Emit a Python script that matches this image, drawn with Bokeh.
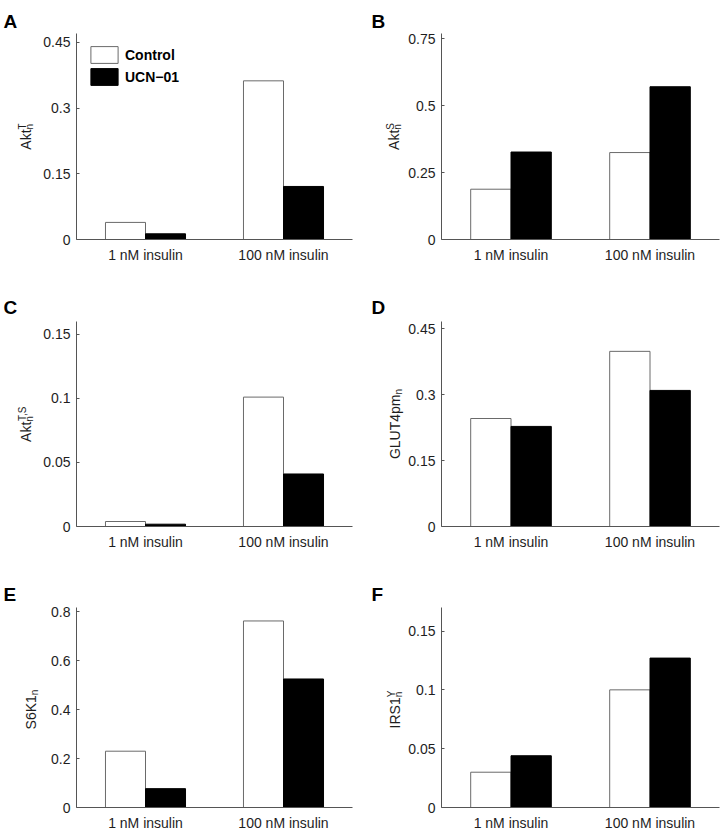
import numpy as np
from bokeh.plotting import figure
from bokeh.models import (ColumnDataSource, FactorRange, Range1d, FixedTicker,
                          CustomJSTickFormatter, Label, Legend, LegendItem)
from bokeh.transform import dodge
from bokeh.layouts import column, row
from bokeh.embed import file_html
from bokeh.resources import INLINE

# ---------------- data ----------------
categories = ["1 nM insulin", "100 nM insulin"]
series_names = ["Control", "UCN\u221201"]

akt_t_control = [0.039, 0.362]
akt_t_ucn = [0.013, 0.121]
akt_s_control = [0.188, 0.325]
akt_s_ucn = [0.327, 0.571]
akt_ts_control = [0.0039, 0.101]
akt_ts_ucn = [0.0018, 0.041]
glut4_control = [0.246, 0.399]
glut4_ucn = [0.228, 0.310]
s6k1_control = [0.230, 0.762]
s6k1_ucn = [0.077, 0.525]
irs1_control = [0.030, 0.100]
irs1_ucn = [0.044, 0.127]

ticks_a = [0, 0.15, 0.3, 0.45]
ticks_b = [0, 0.25, 0.5, 0.75]
ticks_c = [0, 0.05, 0.1, 0.15]
ticks_d = [0, 0.15, 0.3, 0.45]
ticks_e = [0, 0.2, 0.4, 0.6, 0.8]
ticks_f = [0, 0.05, 0.1, 0.15]

ymax_a, ymax_b, ymax_c, ymax_d, ymax_e, ymax_f = 0.47, 0.77, 0.16, 0.467, 0.817, 0.17

panels = [
    ("A", "Akt", "T", "n", akt_t_control, akt_t_ucn, ticks_a, ymax_a),
    ("B", "Akt", "S", "n", akt_s_control, akt_s_ucn, ticks_b, ymax_b),
    ("C", "Akt", "T,S", "n", akt_ts_control, akt_ts_ucn, ticks_c, ymax_c),
    ("D", "GLUT4pm", "", "n", glut4_control, glut4_ucn, ticks_d, ymax_d),
    ("E", "S6K1", "", "n", s6k1_control, s6k1_ucn, ticks_e, ymax_e),
    ("F", "IRS1", "Y", "n", irs1_control, irs1_ucn, ticks_f, ymax_f),
]

# ---------------- style ----------------
FONT = "Liberation Sans"
TXT = "#1e1e1e"
AX = "#555555"
BAR_W = 0.29
FRAME_W = 278
TOTAL_H = 833
COL_START = [0, 361]
COL_END = [361, 722]
FRAME_LEFT = [74, 441]                      # page x of each column's frame
STRIP_W = [40, 44]                          # width of label strip per column
ROW_SPEC = [(287, 33, 48), (287, 34, 48), (259, 33, 22)]  # height, top, bottom
LETTER_BASE = [21, 20, 20]                 # letter baseline below row top
YLABEL_BASE = {"A": 25, "B": 32, "C": 25, "D": 33, "E": 30, "F": 33}
LETTER_X = [3, 10]

ARIAL = {"A": .667, "k": .5, "t": .278, "G": .778, "L": .556, "U": .722,
         "T": .611, "4": .556, "p": .556, "m": .833, "S": .667, "6": .556,
         "K": .667, "1": .556, "I": .278, "R": .722, "Y": .667, "n": .556,
         ",": .278}


def tw(s, size):
    return sum(ARIAL.get(c, .556) for c in s) * size


def make_strip(col):
    sw = STRIP_W[col]
    f = figure(width=sw, height=TOTAL_H, x_range=Range1d(0, sw),
               y_range=Range1d(0, TOTAL_H), output_backend="svg",
               toolbar_location=None, tools="",
               x_axis_location=None, y_axis_location=None)
    f.min_border_left = f.min_border_right = 0
    f.min_border_top = f.min_border_bottom = 0
    f.outline_line_color = None
    f.xgrid.visible = False
    f.ygrid.visible = False
    f.background_fill_color = "white"
    f.border_fill_color = "white"

    row_top = 0
    for rr in range(3):
        letter, main, sup, sub = panels[2 * rr + col][:4]
        h, bt, bb = ROW_SPEC[rr]
        fh = h - bt - bb
        f.add_layout(Label(x=LETTER_X[col], y=TOTAL_H - (row_top + LETTER_BASE[rr]),
                           x_units="screen", y_units="screen",
                           text=letter, text_font=FONT, text_font_style="bold",
                           text_font_size="19px", text_color="black",
                           text_align="left", text_baseline="alphabetic"))
        w_main = tw(main, 14)
        w_sup = tw(sup, 10)
        w_sub = tw(sub, 10)
        total = w_main + max(w_sup, w_sub)
        center = TOTAL_H - (row_top + bt + fh / 2)
        y0 = center - total / 2
        base = YLABEL_BASE[letter]
        common = dict(x_units="screen", y_units="screen",
                      angle=np.pi / 2, text_font=FONT, text_color=TXT,
                      text_align="center", text_baseline="alphabetic")
        f.add_layout(Label(text=main, x=base, y=y0 + w_main / 2,
                           text_font_size="14px", **common))
        if sup:
            f.add_layout(Label(text=sup, x=base - 3, y=y0 + w_main + w_sup / 2,
                               text_font_size="10px", **common))
        if sub:
            f.add_layout(Label(text=sub, x=base + 4, y=y0 + w_main + w_sub / 2,
                               text_font_size="10px", **common))
        row_top += h
    return f


def make_panel(idx, spec):
    letter, main, sup, sub, ctrl, ucn, ticks, ymax = spec
    col = idx % 2
    rr = idx // 2
    h, bt, bb = ROW_SPEC[rr]
    start = COL_START[col] + STRIP_W[col]
    width = COL_END[col] - start
    bl = FRAME_LEFT[col] - start
    br = width - bl - FRAME_W

    p = figure(width=width, height=h,
               x_range=FactorRange(*categories),
               y_range=Range1d(0, ymax), output_backend="svg",
               toolbar_location=None, tools="")
    p.min_border_left = bl
    p.min_border_right = br
    p.min_border_top = bt
    p.min_border_bottom = bb
    p.outline_line_color = None
    p.xgrid.grid_line_color = None
    p.ygrid.grid_line_color = None
    p.background_fill_color = "white"
    p.border_fill_color = "white"
    p.x_range.range_padding = 0

    src = ColumnDataSource(dict(cat=categories, control=ctrl, ucn=ucn))
    r1 = p.vbar(x=dodge("cat", -BAR_W / 2, range=p.x_range), top="control",
                width=BAR_W, source=src, fill_color="white",
                line_color="#6a6a6a", line_width=1)
    r2 = p.vbar(x=dodge("cat", BAR_W / 2, range=p.x_range), top="ucn",
                width=BAR_W, source=src, fill_color="black",
                line_color="black", line_width=1)

    ya = p.yaxis[0]
    ya.ticker = FixedTicker(ticks=ticks)
    ya.formatter = CustomJSTickFormatter(code="return tick.toString()")
    ya.axis_line_color = AX
    ya.major_tick_line_color = AX
    ya.major_tick_in = 3
    ya.major_tick_out = 0
    ya.minor_tick_line_color = None
    ya.major_label_standoff = 6
    ya.major_label_text_font = FONT
    ya.major_label_text_font_size = "14px"
    ya.major_label_text_color = TXT

    xa = p.xaxis[0]
    xa.axis_line_color = AX
    xa.major_tick_line_color = None
    xa.minor_tick_line_color = None
    xa.major_label_standoff = 1
    xa.major_label_text_font = FONT
    xa.major_label_text_font_size = "14px"
    xa.major_label_text_color = TXT

    if idx == 0:
        leg = Legend(items=[LegendItem(label=series_names[0], renderers=[r1]),
                            LegendItem(label=series_names[1], renderers=[r2])],
                     location="top_left")
        leg.glyph_width = 34
        leg.glyph_height = 21
        leg.label_height = 21
        leg.spacing = 1
        leg.padding = 0
        leg.margin = 11
        leg.label_standoff = 4
        leg.border_line_color = None
        leg.background_fill_alpha = 0
        leg.label_text_font = FONT
        leg.label_text_font_style = "bold"
        leg.label_text_font_size = "14px"
        leg.label_text_color = "black"
        p.add_layout(leg)
    return p


figs = [make_panel(i, s) for i, s in enumerate(panels)]
layout = row(make_strip(0), column(figs[0], figs[2], figs[4]),
             make_strip(1), column(figs[1], figs[3], figs[5]))

open("out.html", "w").write(file_html(layout, INLINE))
